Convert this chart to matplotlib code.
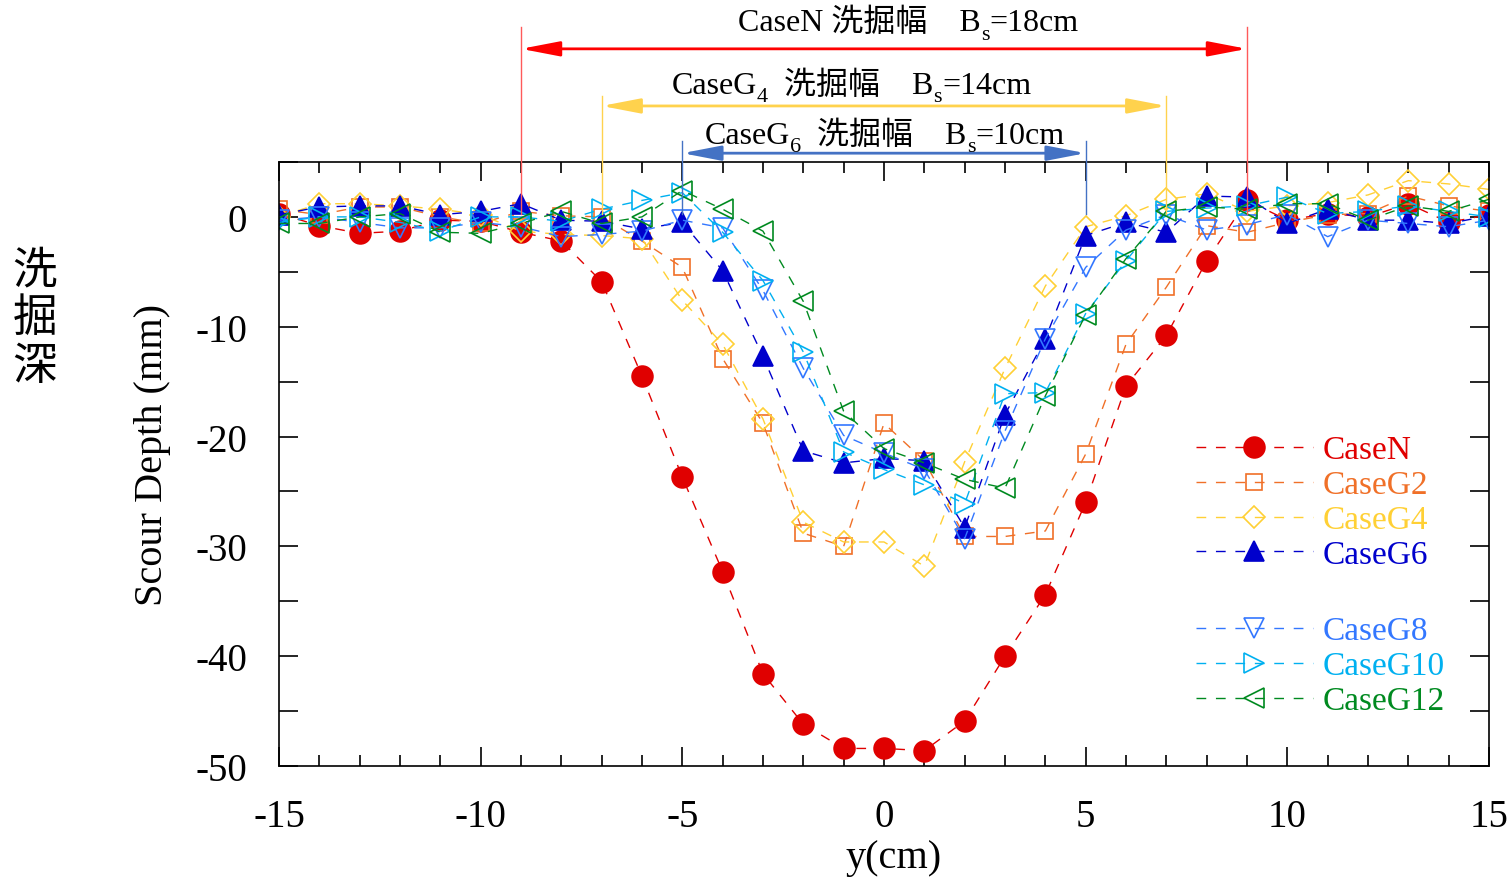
import numpy as np
import matplotlib
matplotlib.use("Agg")
import matplotlib.pyplot as plt
from matplotlib.ticker import MultipleLocator

plt.rcParams['font.family'] = ['Liberation Serif', 'Noto Sans CJK JP']
plt.rcParams['axes.unicode_minus'] = False

y_cm = np.arange(-15, 16)

case_n = [0.3, -0.8, -1.5, -1.3, -0.3, -0.4, -1.4, -2.2, -5.9, -14.5, -23.7, -32.3, -41.6, -46.2, -48.4,
          -48.4, -48.6, -45.9, -40.0, -34.4, -26.0, -15.4, -10.8, -4.0, 1.5, -0.3, 0.3, 0.0, 1.2, -0.5, 0.2]
case_g2 = [0.7, 0.2, 0.9, 0.9, 0.0, -0.6, 0.5, 0.1, 0.0, -2.2, -4.6, -12.9, -18.8, -28.8, -30.0,
           -18.8, -22.2, -29.1, -29.1, -28.6, -21.6, -11.6, -6.4, -0.8, -1.4, -0.5, 0.2, 0.3, 1.9, 1.0, 0.5]
case_g4 = [0.0, 1.2, 1.2, 1.0, 0.7, 0.2, -1.3, -1.6, -1.7, -2.0, -7.6, -11.6, -18.4, -27.8, -29.6,
           -29.6, -31.8, -22.3, -13.8, -6.3, -0.9, 0.1, 1.6, 2.1, 0.5, 1.0, 1.3, 2.0, 3.3, 3.0, 2.5]
case_g6 = [0.2, 0.9, 1.0, 1.0, 0.2, 0.5, 1.2, -0.3, -0.4, -1.1, -0.5, -4.9, -12.7, -21.3, -22.4,
           -22.0, -22.2, -28.3, -18.0, -11.1, -1.7, -0.5, -1.4, 1.9, 1.8, -0.6, 0.7, -0.3, -0.3, -0.6, 0.1]
case_g8 = [-0.3, 0.0, -0.5, -1.0, -1.0, -0.5, -0.9, -1.8, -1.6, -1.3, -0.3, -1.0, -6.7, -13.8, -19.9,
           -21.5, -23.0, -29.3, -19.5, -11.1, -4.6, -1.2, 0.2, -1.2, -0.7, 0.2, -1.8, -0.3, -0.6, -0.9, -0.3]
case_g10 = [-0.5, 0.0, 0.0, -0.5, -1.3, 0.0, 0.0, -0.4, 0.7, 1.5, 2.2, -1.4, -5.8, -12.3, -21.4,
            -23.0, -24.4, -26.1, -16.1, -16.0, -8.8, -4.0, 0.5, 0.8, 1.0, 1.8, 0.3, 0.5, 1.0, 0.5, 0.0]
case_g12 = [-0.6, -0.6, 0.0, 0.3, -1.4, -1.5, -0.6, 0.5, -0.6, 0.0, 2.4, 0.7, -1.3, -7.7, -17.7,
            -21.1, -22.4, -23.9, -24.7, -16.3, -8.9, -3.8, 0.5, 0.9, 0.7, 1.2, 1.2, -0.3, 1.0, 0.5, 1.6]

series = [
    ("CaseN", case_n, "#e00000", "o", True, 15),
    ("CaseG2", case_g2, "#f07028", "s", False, 12),
    ("CaseG4", case_g4, "#ffd035", "D", False, 11),
    ("CaseG6", case_g6, "#0000cc", "^", True, 14),
    ("CaseG8", case_g8, "#3377ff", "v", False, 14),
    ("CaseG10", case_g10, "#00b0f0", ">", False, 14),
    ("CaseG12", case_g12, "#008a20", "<", False, 14),
]

# scour widths: text pieces (text, subscript?), half width, arrow y, line top, text left x, baseline y
widths = [
    ([("CaseN 洗掘幅　B", False), ("s", True), ("=18cm", False)],
     9, 15.3, 17.3, -3.62, 17.0, "#ff0000", "#ff5a5a"),
    ([("CaseG", False), ("4", True), ("  洗掘幅　B", False), ("s", True), ("=14cm", False)],
     7, 10.1, 11.0, -5.26, 11.3, "#ffd24d", "#ffd24d"),
    ([("CaseG", False), ("6", True), ("  洗掘幅　B", False), ("s", True), ("=10cm", False)],
     5, 5.8, 6.9, -4.44, 6.75, "#4472c4", "#4472c4"),
]

fig = plt.figure(figsize=(15.12, 8.79), dpi=100)
ax = fig.add_axes([0.1845, 0.1274, 0.8003, 0.6872])

handles = []
for name, vals, col, mk, filled, ms in series:
    ln, = ax.plot(y_cm, vals, linestyle=(0, (7, 7)), lw=1.0, color=col, marker=mk, ms=ms,
                  mfc=col if filled else 'none', mec=col, mew=1.2, label=name)
    handles.append(ln)

ax.set_xlim(-15, 15)
ax.set_ylim(-50, 5)
ax.xaxis.set_major_locator(MultipleLocator(5))
ax.xaxis.set_minor_locator(MultipleLocator(1))
ax.yaxis.set_major_locator(MultipleLocator(10))
ax.yaxis.set_minor_locator(MultipleLocator(5))
ax.tick_params(which='both', direction='in', top=True, right=True, width=1.2, labelsize=28)
ax.tick_params(axis='x', which='major', length=14, pad=23)
ax.tick_params(axis='x', which='minor', length=8)
ax.tick_params(axis='y', which='both', length=14, pad=23)
for sp in ax.spines.values():
    sp.set_linewidth(1.2)

for pieces, half, ya, ytop, tx, ty, acol, vcol in widths:
    for xv in (-half, half):
        ax.plot([xv, xv], [ytop, 0.3], color=vcol, lw=1.0, clip_on=False, zorder=5)
    ax.annotate("", xy=(half, ya), xytext=(-half, ya), annotation_clip=False,
                arrowprops=dict(arrowstyle="<|-|>,head_length=1.3,head_width=0.25", color=acol,
                                lw=2.0, shrinkA=0, shrinkB=0, mutation_scale=18))
    prev = None
    for txt, sub in pieces:
        size = 16 if sub else 23
        dy = -6 if sub else 0
        if prev is None:
            prev = ax.annotate(txt, xy=(tx, ty), xycoords='data', xytext=(0, dy),
                               textcoords='offset points', ha='left', va='baseline',
                               fontsize=size, annotation_clip=False)
        else:
            prev = ax.annotate(txt, xy=(1, ty), xycoords=(prev, 'data'), xytext=(0, dy),
                               textcoords='offset points', ha='left', va='baseline',
                               fontsize=size, annotation_clip=False)

leg_kw = dict(loc='upper left', bbox_transform=fig.transFigure, frameon=False, fontsize=24,
              handlelength=3.5, handletextpad=0.3, labelspacing=0.13, borderpad=0,
              borderaxespad=0, numpoints=1, labelcolor='linecolor')
leg1 = ax.legend(handles=handles[:4], bbox_to_anchor=(1196 / 1512, 1 - 436 / 879), **leg_kw)
ax.add_artist(leg1)
ax.legend(handles=handles[4:], bbox_to_anchor=(1196 / 1512, 1 - 617 / 879), **leg_kw)

fig.text(0.101, 0.482, "Scour Depth (mm)", rotation=90, ha='center', va='center', fontsize=29)
fig.text(0.591, 0.023, "y(cm)", ha='center', va='center', fontsize=29)
fig.text(0.023, 0.638, "洗\n掘\n深", ha='center', va='center', fontsize=32,
         family='Noto Sans CJK JP', linespacing=1.04)

fig.savefig("out.png", dpi=100)
